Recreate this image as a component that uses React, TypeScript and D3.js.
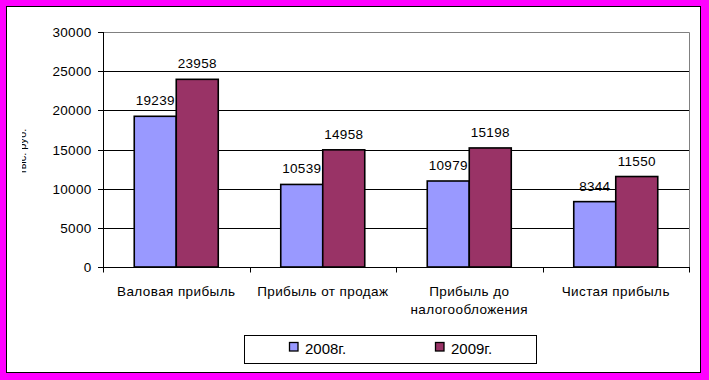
import React from "react";
import * as d3 from "d3";

const categories = [
  ["Валовая прибыль"],
  ["Прибыль от продаж"],
  ["Прибыль до", "налогообложения"],
  ["Чистая прибыль"],
];
const seriesNames = ["2008г.", "2009г."];
const values2008 = [19239, 10539, 10979, 8344];
const values2009 = [23958, 14958, 15198, 11550];
const yTicks = [0, 5000, 10000, 15000, 20000, 25000, 30000];
const yTitle = "тыс. руб.";
const colors = ["#9999FF", "#993366"];

const W = 709;
const H = 380;
const FONT = "'Liberation Sans', Arial, sans-serif";

export default function App() {
  const left = 103;
  const right = 689;
  const top = 32;
  const bottom = 267;
  const x = d3
    .scaleBand<number>()
    .domain(d3.range(categories.length))
    .range([left, right])
    .padding(0);
  const xs = d3
    .scaleBand<number>()
    .domain([0, 1])
    .range([0, x.bandwidth()])
    .paddingInner(0)
    .paddingOuter(0.744);
  const y = d3.scaleLinear().domain([0, 30000]).range([bottom, top]);
  const series = [values2008, values2009];

  return (
    <svg
      width={W}
      height={H}
      style={{ position: "fixed", left: 0, top: 0, fontFamily: FONT }}
    >
      <defs>
        <clipPath id="ytclip">
          <rect x={22} y={0} width={20} height={H} />
        </clipPath>
      </defs>
      <rect x={0} y={0} width={W} height={H} fill="#FF00FF" />
      <rect x={6.5} y={6.5} width={694} height={366} fill="#FFFFFF" stroke="#000" strokeWidth={1} />

      {/* gridlines */}
      {yTicks.slice(1, -1).map((t) => (
        <line key={t} x1={left} x2={right} y1={Math.round(y(t)) + 0.5} y2={Math.round(y(t)) + 0.5} stroke="#000" strokeWidth={1} />
      ))}
      {/* top and right plot border */}
      <line x1={left} x2={right + 0.5} y1={Math.round(y(30000)) + 0.5} y2={Math.round(y(30000)) + 0.5} stroke="#808080" strokeWidth={1} />
      <line x1={right + 0.5} x2={right + 0.5} y1={Math.round(y(30000)) + 0.5} y2={bottom} stroke="#808080" strokeWidth={1} />

      {/* bars */}
      {series.map((vals, si) =>
        vals.map((v, ci) => {
          const bx = (x(ci) as number) + (xs(si) as number);
          const by = y(v);
          return (
            <rect
              key={`${si}-${ci}`}
              x={bx}
              y={by}
              width={xs.bandwidth()}
              height={bottom - by}
              fill={colors[si]}
              stroke="#000"
              strokeWidth={1.6}
            />
          );
        })
      )}

      {/* data labels */}
      {series.map((vals, si) =>
        vals.map((v, ci) => {
          const cx = (x(ci) as number) + (xs(si) as number) + xs.bandwidth() / 2;
          return (
            <text
              key={`l${si}-${ci}`}
              x={cx}
              y={y(v) - 11}
              textAnchor="middle"
              fontSize={13.5}
              letterSpacing={0.3}
              fill="#000"
            >
              {v}
            </text>
          );
        })
      )}

      {/* y axis */}
      <line x1={left + 0.5} x2={left + 0.5} y1={y(30000)} y2={bottom + 0.5} stroke="#000" strokeWidth={1} />
      {yTicks.map((t) => (
        <g key={`yt${t}`}>
          <line x1={left - 5} x2={left} y1={Math.round(y(t)) + 0.5} y2={Math.round(y(t)) + 0.5} stroke="#000" strokeWidth={1} />
          <text x={91.5} y={y(t) + 5} textAnchor="end" fontSize={13.5} letterSpacing={0.3} fill="#000">
            {t}
          </text>
        </g>
      ))}

      {/* x axis */}
      <line x1={left} x2={right + 1} y1={bottom + 0.5} y2={bottom + 0.5} stroke="#000" strokeWidth={1} />
      {d3.range(categories.length + 1).map((i) => {
        const tx = Math.round(left + i * x.step()) + 0.5;
        return <line key={`xt${i}`} x1={tx} x2={tx} y1={bottom} y2={bottom + 5.5} stroke="#000" strokeWidth={1} />;
      })}
      {categories.map((lines, ci) => (
        <text
          key={`c${ci}`}
          x={(x(ci) as number) + x.bandwidth() / 2}
          y={295.5}
          textAnchor="middle"
          fontSize={13.5}
          letterSpacing={0.4}
          fill="#000"
        >
          {lines.map((ln, li) => (
            <tspan key={li} x={(x(ci) as number) + x.bandwidth() / 2} dy={li === 0 ? 0 : 18.5}>
              {ln}
            </tspan>
          ))}
        </text>
      ))}

      {/* y axis title (clipped as in original) */}
      <g clipPath="url(#ytclip)">
        <text
          transform={`translate(26,${(top + bottom) / 2 + 2}) rotate(-90)`}
          textAnchor="middle"
          fontSize={11}
          fill="#000"
        >
          {yTitle}
        </text>
      </g>

      {/* legend */}
      <rect x={244.5} y={335.5} width={292} height={28} fill="#FFFFFF" stroke="#000" strokeWidth={1} />
      {seriesNames.map((name, i) => {
        const mx = 289.5 + i * 146;
        return (
          <g key={`lg${i}`}>
            <rect x={mx} y={342.5} width={8.5} height={8.5} fill={colors[i]} stroke="#000" strokeWidth={1.3} />
            <text x={mx + 15.5} y={353.5} fontSize={15} fill="#000">
              {name}
            </text>
          </g>
        );
      })}
    </svg>
  );
}
